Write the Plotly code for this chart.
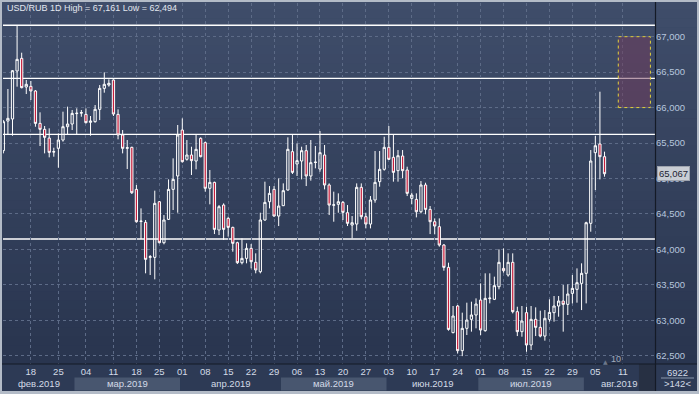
import pandas as pd
import plotly.graph_objects as go

# ---------------- data ----------------
six_day_weeks = ["2019-02-11", "2019-02-18", "2019-02-25", "2019-03-04"]
five_day_first, five_day_last = "2019-03-11", "2019-07-29"
last_week_start, last_week_days = "2019-08-05", 3
future_first, future_last = "2019-08-08", "2019-08-17"

open_ = [65392, 65810, 65839, 66516, 66694, 66290, 66299, 66234, 65777, 65693,
         65570, 65372, 65425, 65542, 65730, 65768, 65915, 65922, 65904, 65792,
         65801, 65975, 66271, 66318, 66389, 65904, 65613, 65425, 65439, 64846,
         64400, 64381, 63887, 63887, 64672, 64094, 64423, 64846, 65035, 65683,
         65270, 65331, 65246, 65566, 65505, 64861, 64945, 64273, 64625, 64437,
         64310, 64094, 63812, 63873, 64014, 63817, 63685, 64414, 64672, 64846,
         64470, 64616, 64837, 65378, 65204, 65246, 65392, 65035, 65225, 65133,
         65331, 64908, 64622, 64635, 64663, 64517, 64343, 64357, 64875, 64461,
         64357, 64696, 64955, 65129, 65439, 65298, 65110, 65317, 65119, 64719,
         64705, 64531, 64908, 64564, 64390, 64320, 64061, 63746, 62825, 63201,
         62571, 62886, 63013, 63074, 63285, 62853, 63305, 63295, 63473, 63732,
         63638, 63817, 63121, 62839, 63107, 62651, 63013, 62900, 62777, 63013,
         63107, 63201, 63271, 63224, 63379, 63436, 63520, 63662, 64367, 65364,
         65486, 65307]
high = [65824, 66262, 66530, 67161, 66774, 66389, 66375, 66248, 65933, 65740,
        65707, 65434, 65636, 65942, 66013, 65966, 65989, 65966, 65989, 65881,
        66036, 66318, 66497, 66398, 66398, 65975, 65683, 65542, 65448, 64908,
        64578, 64414, 63920, 64828, 64682, 64484, 64987, 65284, 65754, 65848,
        65542, 65448, 65613, 65580, 65519, 65119, 64955, 64625, 64649, 64461,
        64320, 64108, 64155, 64085, 64075, 63944, 64517, 64955, 64893, 64893,
        65002, 64931, 65580, 65613, 65495, 65448, 65472, 65542, 65458, 65669,
        65472, 64931, 64814, 64790, 64682, 64625, 64470, 64931, 64931, 64517,
        64752, 65387, 65387, 65589, 65740, 65613, 65401, 65401, 65166, 64799,
        64790, 64964, 64940, 64611, 64437, 64437, 64075, 63812, 63201, 63215,
        63107, 63248, 63262, 63309, 63520, 63662, 63662, 63615, 64000, 64014,
        63944, 63944, 63191, 63201, 63191, 63201, 63182, 63135, 63144, 63295,
        63342, 63342, 63497, 63506, 63638, 63732, 63803, 64390, 65401, 65599,
        66224, 65378]
low = [65354, 65613, 65603, 66295, 66271, 66191, 66107, 65730, 65458, 65354,
       65298, 65307, 65152, 65519, 65613, 65683, 65613, 65871, 65777, 65603,
       65787, 65824, 66210, 66295, 65881, 65552, 65354, 65133, 64781, 64376,
       64146, 63662, 63638, 63577, 64085, 64071, 64414, 64555, 64517, 65223,
       65251, 65049, 65129, 65298, 64814, 64635, 64216, 64202, 64132, 64179,
       63967, 63793, 63788, 63803, 63732, 63662, 63662, 64404, 64578, 64461,
       64329, 64611, 64828, 65063, 65035, 64987, 64893, 64969, 65143, 65096,
       64846, 64484, 64390, 64517, 64414, 64329, 64155, 64263, 64423, 64296,
       64296, 64658, 64884, 65110, 65260, 64955, 64955, 65002, 64752, 64635,
       64451, 64508, 64494, 64216, 64212, 64038, 63699, 62853, 62816, 62533,
       62494, 62792, 62839, 62886, 62792, 62839, 63238, 63285, 63436, 63671,
       63615, 63097, 62777, 62768, 62556, 62580, 62777, 62759, 62712, 62980,
       62980, 63050, 62839, 63074, 63238, 63248, 63144, 63238, 64249, 64837,
       64987, 65025]
close = [65801, 65848, 66520, 66680, 66281, 66328, 66234, 65777, 65693, 65580,
         65368, 65378, 65542, 65730, 65768, 65918, 65920, 65928, 65787, 65810,
         65975, 66271, 66328, 66342, 65909, 65613, 65425, 65434, 64799, 64390,
         64395, 63859, 63897, 64649, 64094, 64414, 64846, 64987, 65613, 65237,
         65331, 65251, 65411, 65307, 64861, 64945, 64282, 64602, 64282, 64310,
         64085, 63812, 63873, 64014, 63826, 63709, 64414, 64663, 64790, 64470,
         64611, 64828, 65411, 65086, 65251, 65392, 65035, 65223, 65230, 65364,
         64908, 64625, 64628, 64672, 64522, 64367, 64376, 64875, 64461, 64357,
         64696, 64945, 65129, 65439, 65270, 65086, 65321, 65110, 64790, 64766,
         64531, 64908, 64564, 64390, 64329, 64061, 63746, 62871, 63060, 62571,
         62886, 63003, 63074, 63229, 62862, 63309, 63312, 63488, 63817, 63699,
         63817, 63121, 62839, 62989, 62651, 63013, 62900, 62777, 63027, 63111,
         63201, 63271, 63224, 63370, 63450, 63530, 63662, 64376, 65246, 65462,
         65307, 65067]

levels = [67161, 66413, 65623, 64146]
zone_start, zone_end = "2019-08-10", "2019-08-17"
zone_low, zone_high = 66000, 67000
last_price = 65067
title_text = "USD/RUB 1D High = 67,161 Low = 62,494"

tick_dates = ["2019-02-18", "2019-02-25", "2019-03-04", "2019-03-11", "2019-03-18",
              "2019-03-25", "2019-04-01", "2019-04-08", "2019-04-15", "2019-04-22",
              "2019-04-29", "2019-05-06", "2019-05-13", "2019-05-20", "2019-05-27",
              "2019-06-03", "2019-06-10", "2019-06-17", "2019-06-24", "2019-07-01",
              "2019-07-08", "2019-07-15", "2019-07-22", "2019-07-29", "2019-08-05",
              "2019-08-11"]
months = ["2019-02", "2019-03", "2019-04", "2019-05", "2019-06", "2019-07", "2019-08"]
month_labels = ["фев.2019", "мар.2019", "апр.2019", "май.2019", "июн.2019", "июл.2019", "авг.2019"]
aug_band_end_date = "2019-08-14"
y_ticks = [62500, 63000, 63500, 64000, 64500, 65000, 65500, 66000, 66500, 67000]

# ---------------- dates / positions ----------------
dates = []
for ws in six_day_weeks:
    dates += list(pd.date_range(ws, periods=6))
for ws in pd.date_range(five_day_first, five_day_last, freq="7D"):
    dates += list(pd.date_range(ws, periods=5))
dates += list(pd.date_range(last_week_start, periods=last_week_days))
assert len(dates) == len(open_) == len(high) == len(low) == len(close)
all_dates = dates + list(pd.date_range(future_first, future_last))
pos = {d.strftime("%Y-%m-%d"): i for i, d in enumerate(all_dates)}
xs = list(range(len(dates)))

W, H = 699, 394
ML, MR, MT, MB = 3, 44, 3, 30
PW, PH = W - ML - MR, H - MT - MB
XR = [-0.07, 142.0]
YR = [62383, 67475]


def px(xp):
    return (xp - ML) / PW


def py(yp):
    return (H - MB - yp) / PH


def mix(c1, c2, t):
    return "rgb(%d,%d,%d)" % tuple(round(a + (b - a) * t) for a, b in zip(c1, c2))


fig = go.Figure()
fig.add_trace(go.Candlestick(
    x=xs, open=open_, high=high, low=low, close=close,
    increasing=dict(line=dict(color="#ffffff", width=1), fillcolor="rgba(0,0,0,0)"),
    decreasing=dict(line=dict(color="#ffffff", width=1), fillcolor="#c61f3d"),
    whiskerwidth=0, hoverinfo="skip", showlegend=False,
))

shapes = []
# background gradient
top_c, bot_c = (63, 77, 106), (41, 53, 79)
N = 40
for k in range(N):
    y0p = 364 * k / N
    y1p = 364 * (k + 1) / N
    shapes.append(dict(type="rect", xref="paper", yref="paper", layer="below",
                       x0=px(0), x1=px(W), y0=py(y1p + 0.5), y1=py(y0p),
                       fillcolor=mix(top_c, bot_c, k / (N - 1)), line=dict(width=0)))
# bottom strip
shapes.append(dict(type="rect", xref="paper", yref="paper", layer="below",
                   x0=px(0), x1=px(W), y0=py(H), y1=py(364),
                   fillcolor="#2d3a55", line=dict(width=0)))

# month bands
starts = []
for m in months:
    first = min(i for i, d in enumerate(all_dates) if d.strftime("%Y-%m") == m)
    starts.append(first - 0.5)
ends = starts[1:] + [XR[1]]
annotations = []
for i, (s, e, lab) in enumerate(zip(starts, ends, month_labels)):
    if i % 2 == 1:
        shapes.append(dict(type="rect", xref="x", yref="paper", layer="below",
                           x0=s, x1=e, y0=py(390.5), y1=py(377.5),
                           fillcolor="#48566f", line=dict(width=0)))
    vs, ve = max(s, XR[0]), min(e, XR[1])
    annotations.append(dict(x=(vs + ve) / 2, xref="x", y=py(384), yref="paper",
                            text=lab, showarrow=False, xanchor="center", yanchor="middle",
                            font=dict(family="Liberation Sans", size=9.5, color="#d3dae7")))
# dark block at end of date strip
shapes.append(dict(type="rect", xref="x", yref="paper", layer="above",
                   x0=pos[aug_band_end_date] + 0.5, x1=XR[1], y0=py(391), y1=py(364),
                   fillcolor="#273043", line=dict(width=0)))

# level lines
for lv in levels:
    shapes.append(dict(type="line", xref="paper", yref="y", layer="between",
                       x0=0, x1=1, y0=lv, y1=lv, line=dict(color="#ffffff", width=1.3)))
# target zone
shapes.append(dict(type="rect", xref="x", yref="y", layer="above",
                   x0=pos[zone_start], x1=pos[zone_end], y0=zone_low, y1=zone_high,
                   fillcolor="rgba(115,60,92,0.5)",
                   line=dict(color="#e3d23c", width=1, dash="dot")))

# separators / frame
shapes.append(dict(type="line", xref="paper", yref="paper", layer="above",
                   x0=px(0), x1=px(W), y0=py(364), y1=py(364),
                   line=dict(color="#141a26", width=1.2)))
shapes.append(dict(type="line", xref="paper", yref="paper", layer="above",
                   x0=px(655.5), x1=px(655.5), y0=py(391), y1=py(2),
                   line=dict(color="#141a26", width=1.2)))
shapes.append(dict(type="line", xref="paper", yref="paper", layer="above",
                   x0=px(661), x1=px(694), y0=py(378), y1=py(378),
                   line=dict(color="#8a97ad", width=1)))
frame_c = "#b3bbc7"
for (a, b, c, d) in [(0, W, 0, 2), (0, W, 391, H), (0, 2, 0, H), (W - 2, W, 0, H)]:
    shapes.append(dict(type="rect", xref="paper", yref="paper", layer="above",
                       x0=px(a), x1=px(b), y0=py(d), y1=py(c),
                       fillcolor=frame_c, line=dict(width=0)))

annotations += [
    dict(x=px(5), y=py(8.5), xref="paper", yref="paper", text=title_text,
         showarrow=False, xanchor="left", yanchor="middle",
         font=dict(family="Liberation Sans", size=9, color="#e2e7ef")),
    dict(x=1, xref="paper", xshift=2, y=last_price, yref="y",
         text="{:,}".format(last_price), showarrow=False, xanchor="left", yanchor="middle",
         bgcolor="#c9cdd4", bordercolor="#9ea4ae", borderwidth=1, borderpad=1,
         font=dict(family="Liberation Sans", size=9.5, color="#1d2432")),
    dict(x=px(616), y=py(359), xref="paper", yref="paper", text="10", showarrow=False,
         xanchor="center", yanchor="middle",
         font=dict(family="Liberation Sans", size=9, color="#a1abbb")),
    dict(x=px(605), y=py(361), xref="paper", yref="paper", text="▲", showarrow=False,
         xanchor="center", yanchor="middle",
         font=dict(family="DejaVu Sans", size=6, color="#6c778b")),
    dict(x=px(677.5), y=py(372.5), xref="paper", yref="paper", text="6922", showarrow=False,
         xanchor="center", yanchor="middle",
         font=dict(family="Liberation Sans", size=9.5, color="#d3dae7")),
    dict(x=px(677.5), y=py(384), xref="paper", yref="paper", text="&gt;142&lt;", showarrow=False,
         xanchor="center", yanchor="middle",
         font=dict(family="Liberation Sans", size=9.5, color="#d3dae7")),
]

fig.update_layout(
    width=W, height=H, autosize=False,
    margin=dict(l=ML, r=MR, t=MT, b=MB, pad=0),
    paper_bgcolor="#2d3a55", plot_bgcolor="rgba(0,0,0,0)",
    shapes=shapes, annotations=annotations, boxgap=0.3,
    showlegend=False, hovermode=False,
    xaxis=dict(range=XR, rangeslider=dict(visible=False), tickmode="array",
               tickvals=[pos[d] for d in tick_dates], ticktext=[d[-2:] for d in tick_dates],
               showgrid=True, gridcolor="#5d6b87", gridwidth=1, griddash="3px,3px",
               zeroline=False, showline=False, ticks="",
               tickfont=dict(family="Liberation Sans", size=9.5, color="#d3dae7")),
    yaxis=dict(range=YR, side="right", tickmode="array", tickvals=y_ticks,
               ticktext=["{:,}".format(v) for v in y_ticks],
               showgrid=True, gridcolor="#5d6b87", gridwidth=1, griddash="3px,3px",
               zeroline=False, showline=False, ticks="",
               tickfont=dict(family="Liberation Sans", size=9.5, color="#b6c6de")),
)

fig.write_html("out.html", config={"displayModeBar": False},
               post_script="document.body.style.margin='0';document.body.style.overflow='hidden';")
